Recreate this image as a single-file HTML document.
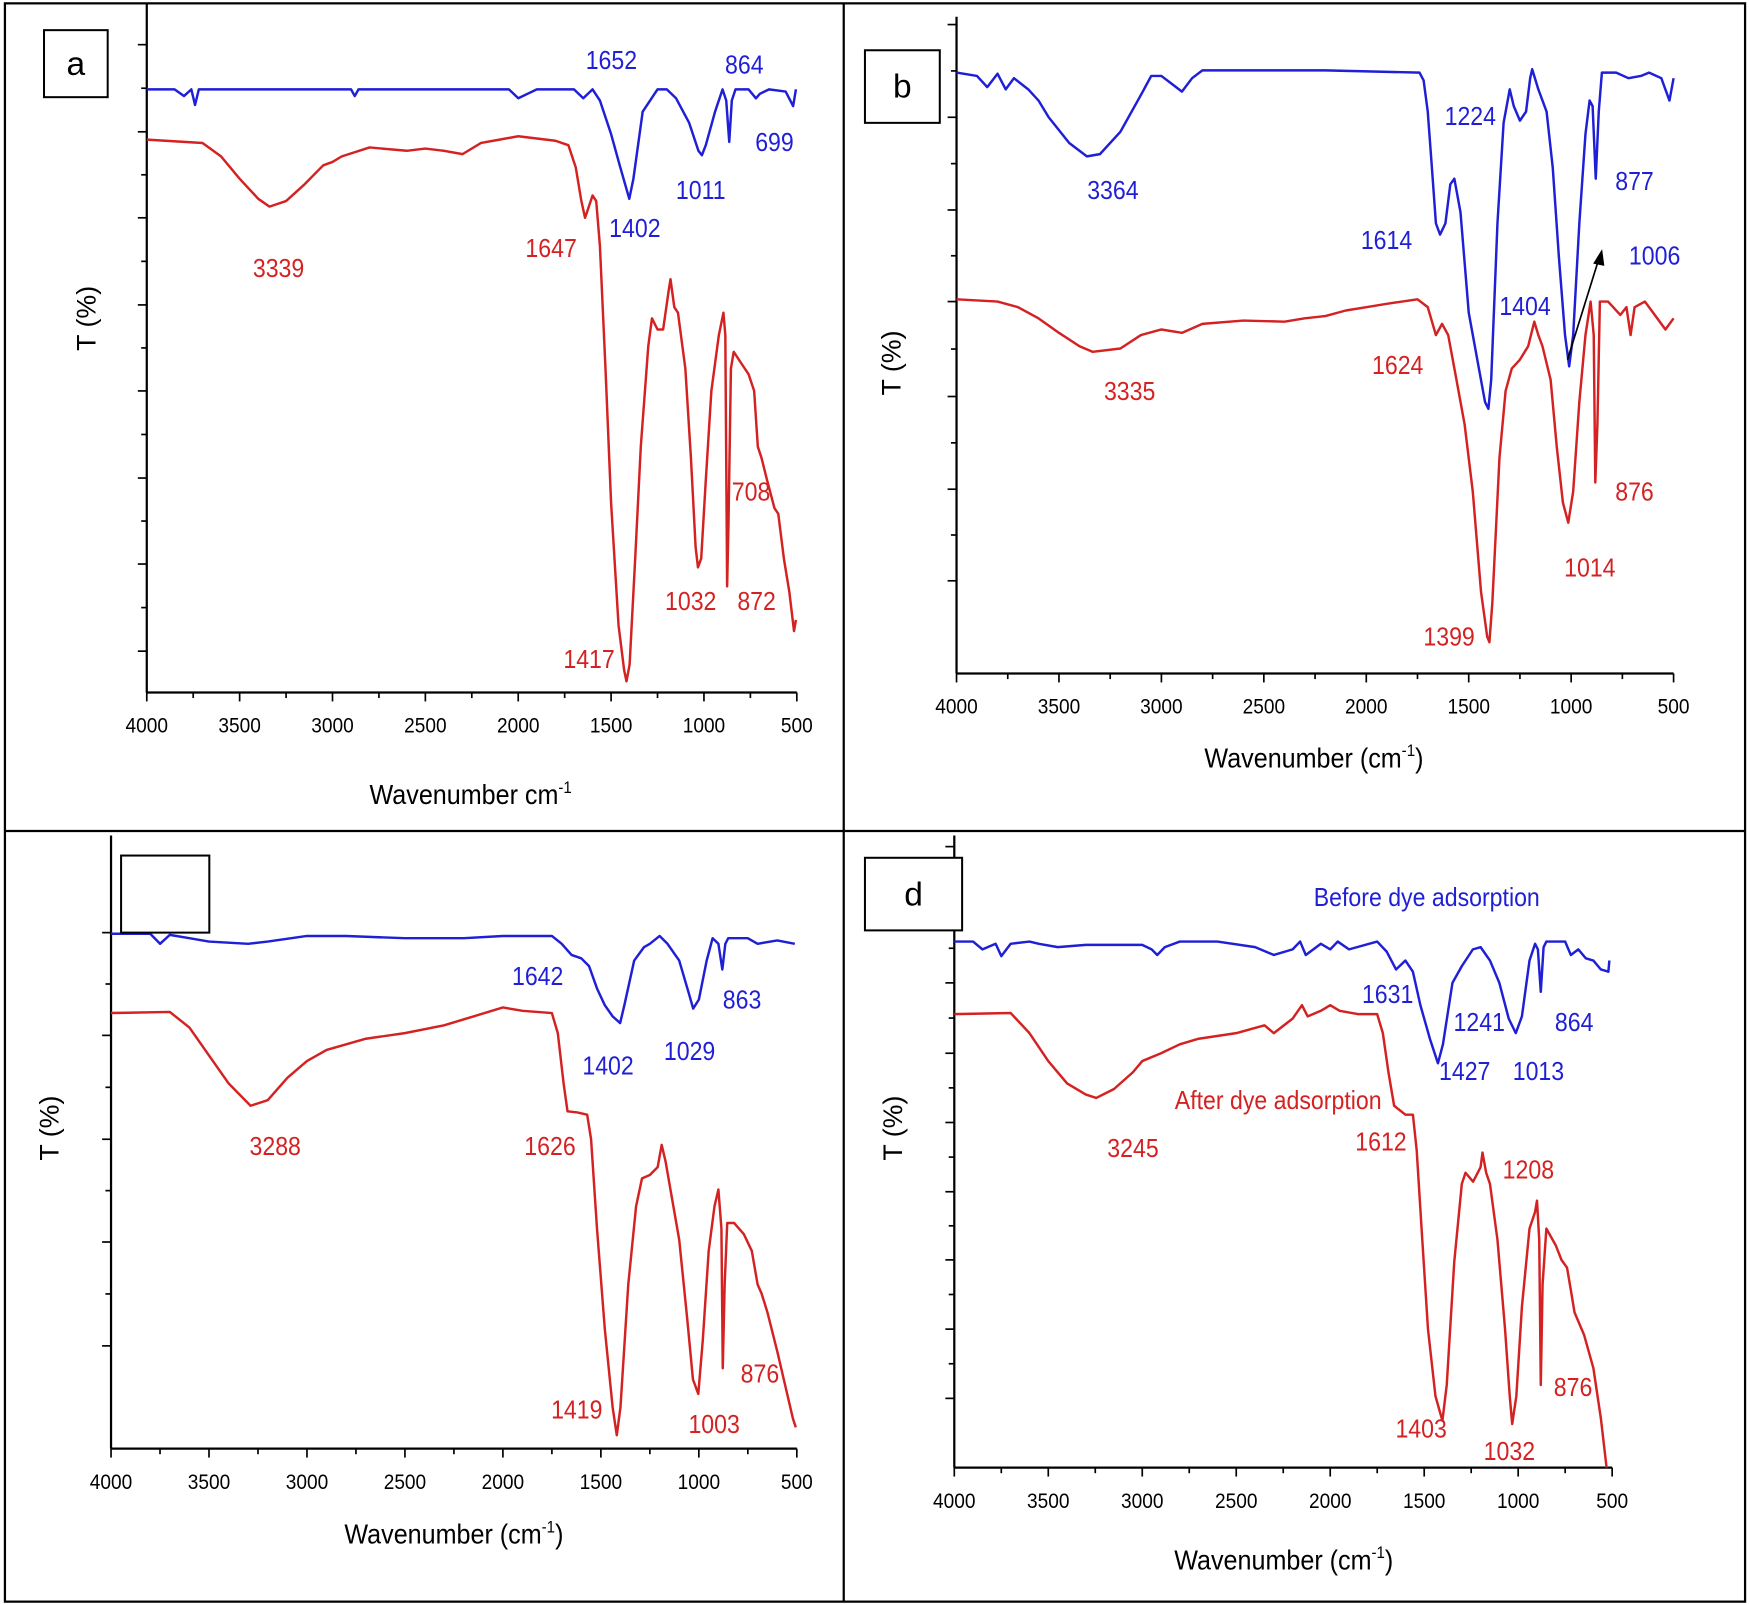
<!DOCTYPE html>
<html><head><meta charset="utf-8">
<style>
html,body{margin:0;padding:0;background:#fff;}
svg{display:block;}
text{font-family:"Liberation Sans",Arial,sans-serif;}
</style></head>
<body>
<svg id="fig" width="1750" height="1605" viewBox="0 0 1564 1437" xmlns="http://www.w3.org/2000/svg">
<rect x="3" y="3" width="1558" height="1431" fill="#fff" stroke="#000" stroke-width="2"/>
<line x1="754" y1="3" x2="754" y2="1434" stroke="#000" stroke-width="2"/>
<line x1="3" y1="744" x2="1561" y2="744" stroke="#000" stroke-width="2"/>
<g id="layer"></g>
</svg>
<script>
// ---- data (wavenumber cm-1, transmittance arbitrary units) ----
const xTicks = [4000,3500,3000,2500,2000,1500,1000,500];

const aBlueWn = [4000,3850,3800,3760,3740,3720,2900,2880,2860,2050,2000,1950,1900,1700,1650,1600,1560,1500,1450,1402,1380,1330,1250,1200,1150,1080,1030,1011,990,940,900,880,864,850,830,760,720,699,650,560,520,505];
const aBlueT = [540,540,534,540,526,540,540,534,540,540,532,536,540,540,532,540,530,500,470,442,460,520,540,540,532,510,485,481,490,520,540,530,493,530,540,540,532,536,540,538,525,540];
const aRedWn = [4000,3800,3700,3600,3500,3400,3339,3250,3150,3050,3000,2950,2800,2600,2500,2400,2300,2200,2100,2000,1900,1800,1730,1690,1660,1640,1620,1600,1580,1560,1530,1500,1460,1430,1417,1400,1370,1340,1300,1280,1250,1220,1190,1180,1160,1140,1100,1070,1045,1032,1015,990,960,920,895,885,875,868,855,840,800,760,730,710,690,660,620,600,570,540,515,505];
const aRedT = [495,493,492,480,460,442,435,440,455,472,475,480,488,485,487,485,482,492,495,498,496,494,490,470,440,425,435,445,440,400,290,170,60,20,10,25,120,220,310,335,325,325,360,370,345,340,290,210,130,112,120,190,270,320,340,320,95,150,290,305,295,285,270,220,210,190,165,160,120,90,55,65];

const bBlueWn = [4000,3900,3850,3800,3760,3720,3650,3600,3550,3450,3364,3300,3200,3100,3050,3000,2950,2900,2850,2800,2200,1740,1720,1700,1680,1660,1640,1614,1590,1570,1540,1500,1450,1420,1404,1390,1360,1330,1300,1280,1250,1220,1200,1190,1160,1120,1090,1060,1030,1010,990,960,930,910,895,880,865,850,780,720,660,620,560,520,500];
const bBlueT = [538,535,525,537,523,533,523,513,498,475,463,465,485,518,535,535,528,521,533,540,540,538,531,503,453,403,393,403,438,443,413,323,273,243,237,263,403,493,523,508,495,503,533,541,523,503,453,373,303,275,303,403,483,513,508,443,503,538,538,533,535,538,533,513,533];
const bRedWn = [4000,3800,3700,3600,3500,3400,3335,3200,3100,3000,2900,2800,2600,2400,2300,2200,2100,2000,1900,1750,1700,1660,1630,1600,1560,1520,1480,1440,1410,1399,1385,1350,1320,1290,1250,1210,1180,1160,1140,1100,1070,1040,1014,990,960,930,905,890,882,872,860,820,760,730,710,690,640,600,540,500];
const bRedT = [335,333,328,318,305,293,288,291,303,308,305,313,316,315,318,320,325,328,331,335,328,303,313,303,263,223,163,73,33,28,63,193,253,273,281,293,315,303,293,263,203,153,135,163,243,303,333,303,171,223,333,333,321,328,303,328,333,323,308,318];

const cBlueWn = [4000,3800,3750,3700,3600,3500,3300,3200,3000,2800,2500,2200,2000,1750,1700,1650,1600,1560,1520,1480,1440,1402,1380,1330,1280,1250,1200,1160,1100,1050,1029,1000,960,930,900,880,865,850,750,700,600,510];
const cBlueT = [461,461,452,460,457,454,452,454,459,459,457,457,459,459,452,442,439,432,412,397,387,381,397,437,449,452,459,452,437,407,394,402,437,457,452,429,452,457,457,452,455,452];
const cRedWn = [4000,3700,3600,3500,3400,3288,3200,3100,3000,2900,2700,2500,2300,2150,2000,1900,1750,1720,1690,1670,1620,1570,1550,1520,1480,1440,1419,1400,1360,1320,1290,1250,1210,1190,1170,1150,1100,1060,1030,1003,980,950,920,900,885,878,868,855,820,770,730,700,680,650,600,560,520,505];
const cRedT = [390,391,377,352,327,307,312,332,347,357,367,372,379,387,395,392,390,372,327,302,301,299,277,197,107,37,12,37,147,217,242,245,252,272,257,237,187,117,62,49,97,177,217,232,197,72,147,202,202,192,177,147,139,122,87,57,27,19];

const dBlueWn = [4000,3900,3850,3780,3750,3700,3600,3550,3450,3300,3000,2950,2920,2880,2800,2600,2400,2300,2200,2160,2130,2050,2000,1960,1900,1750,1700,1650,1600,1560,1520,1470,1427,1400,1350,1300,1241,1200,1150,1100,1050,1013,980,940,910,895,880,865,850,750,720,680,640,600,560,520,515];
const dBlueT = [471,471,464,469,458,469,471,469,466,468,468,464,459,466,471,471,466,459,464,471,459,469,464,471,464,471,462,446,454,444,414,384,362,379,434,449,464,466,454,434,402,389,404,454,469,464,426,466,471,471,459,464,456,454,446,444,454];
const dRedWn = [4000,3700,3600,3500,3400,3300,3245,3150,3050,3000,2900,2800,2700,2500,2350,2300,2200,2150,2120,2050,2000,1950,1850,1750,1720,1690,1660,1600,1560,1540,1510,1480,1440,1403,1380,1340,1300,1280,1240,1200,1190,1170,1150,1110,1070,1045,1032,1010,980,940,910,900,888,880,870,850,800,770,740,720,700,650,600,560,530];
const dRedT = [406,407,389,364,344,334,331,339,354,364,371,379,384,389,396,389,402,414,404,409,414,409,406,406,389,354,324,316,316,284,204,124,64,42,74,184,254,264,256,269,282,264,254,204,124,64,39,64,144,214,229,239,204,74,164,214,199,186,179,159,139,119,89,44,0];

const BLUE = "#1f1fd6", RED = "#d42222";
const NS = "http://www.w3.org/2000/svg";
const layer = document.getElementById('layer');

function mk(tag, attrs, parent){
  const e = document.createElementNS(NS, tag);
  for (const k in attrs) e.setAttribute(k, attrs[k]);
  (parent||layer).appendChild(e);
  return e;
}

function panel(p){
  const g = mk('g', {});
  
  
  const xs = w => p.x0 + (4000 - w) / 3500 * (p.x1 - p.x0);
  const ys = t => p.y1 - t;
  // axes
  const ya = mk('line', {x1:p.x0, y1:p.yTop, x2:p.x0, y2:p.y1, stroke:'#000','stroke-width':2}, g);
  
  
  const xa = mk('line', {x1:p.x0, y1:p.y1, x2:p.x1, y2:p.y1, stroke:'#000','stroke-width':2}, g);
  
  
  // x ticks
  for (let w = 4000; w >= 500; w -= 250) {
    const major = w % 500 === 0;
    mk('line', {x1:xs(w), y1:p.y1, x2:xs(w), y2:p.y1 + (major?8:5), stroke:'#000','stroke-width':1.5}, g);
  }
  xTicks.forEach(w => {
    const t = mk('text', {x:xs(w), y:p.y1 + 36, 'text-anchor':'middle','font-size':19, fill:'#000', transform:`translate(${xs(w)},0) scale(0.9,1) translate(${-xs(w)},0)`}, g);
    t.textContent = w;
    
    
  });
  // y ticks
  p.yMajor.forEach((y,i) => {
    mk('line', {x1:p.x0 - 8, y1:y, x2:p.x0, y2:y, stroke:'#000','stroke-width':1.5}, g);
    if (i < p.yMajor.length - 1) {
      const ym = (y + p.yMajor[i+1]) / 2;
      mk('line', {x1:p.x0 - 5, y1:ym, x2:p.x0, y2:ym, stroke:'#000','stroke-width':1.5}, g);
    }
  });
  // series
  function series(wn, T, color, name){
    const n = Math.min(wn.length, T.length);
    let d = '';
    for (let i = 0; i < n; i++) d += (i ? 'L' : 'M') + xs(wn[i]).toFixed(1) + ',' + ys(T[i]).toFixed(1);
    const path = mk('path', {d:d, fill:'none', stroke:color, 'stroke-width':2.2, 'stroke-linejoin':'round'}, g);
    
    
  }
  series(p.bw, p.bt, BLUE, 'before-adsorption-line-' + p.id);
  series(p.rw, p.rt, RED, 'after-adsorption-line-' + p.id);
  // titles
  const yt = mk('text', {x:0, y:0, 'text-anchor':'middle', 'font-size':24, fill:'#000', transform:`translate(${p.ytx},${p.yty}) rotate(-90)`}, g);
  yt.textContent = 'T (%)';
  
  
  const xt = mk('text', {x:p.xtx, y:p.xty, 'text-anchor':'middle', 'font-size':25, fill:'#000', transform:`translate(${p.xtx},0) scale(0.9,1) translate(${-p.xtx},0)`}, g);
  xt.innerHTML = p.xtitle;
  
  
  // label box
  const box = mk('rect', {x:p.box[0], y:p.box[1], width:p.box[2], height:p.box[3], fill:'#fff', stroke:'#000','stroke-width':1.8}, g);
  
  
  if (p.letter) {
    const lt = mk('text', {x:p.box[0] + p.box[2]/2, y:p.box[1] + p.box[3]/2 + 10, 'text-anchor':'middle', 'font-size':30, fill:'#000'}, g);
    lt.textContent = p.letter;
    
    
  }
  // annotations
  p.ann.forEach(a => {
    const t = mk('text', {x:a[1], y:a[2], 'text-anchor':'middle', 'font-size':23, fill:a[3], transform:`translate(${a[1]},0) scale(0.9,1) translate(${-a[1]},0)`}, g);
    t.textContent = a[0];
    
    
  });
  return g;
}

const B = BLUE, R = RED;
panel({id:'a', x0:130, x1:712, y1:620, yTop:3,
  yMajor:[40,118,195,273,350,428,505,583],
  bw:aBlueWn, bt:aBlueT, rw:aRedWn, rt:aRedT,
  ytx:84, yty:285, xtx:420, xty:720, xtitle:'Wavenumber cm<tspan font-size="15" dy="-10">-1</tspan>',
  box:[38,27,57,60], letter:'a',
  ann:[['1652',546,62,B],['864',665,66,B],['699',692,135,B],['1402',567,212,B],['1011',626,178,B],
       ['3339',248,248,R],['1647',492,230,R],['708',671,448,R],['1032',617,546,R],['872',676,546,R],['1417',526,598,R]]});
panel({id:'b', x0:855, x1:1497, y1:603, yTop:15,
  yMajor:[22,105,188,270,355,438,520],
  bw:bBlueWn, bt:bBlueT, rw:bRedWn, rt:bRedT,
  ytx:805, yty:325, xtx:1175, xty:687, xtitle:'Wavenumber (cm<tspan font-size="15" dy="-10">-1</tspan><tspan dy="10">)</tspan>',
  box:[773,45,67,65], letter:'b',
  ann:[['3364',995,178,B],['1224',1315,112,B],['877',1462,170,B],['1614',1240,223,B],['1404',1364,282,B],['1006',1480,237,B],
       ['3335',1010,358,R],['1624',1250,335,R],['1399',1296,578,R],['1014',1422,516,R],['876',1462,448,R]]});
panel({id:'c', x0:98, x1:712, y1:1297, yTop:748,
  yMajor:[835,927,1020,1112,1205],
  bw:cBlueWn, bt:cBlueT, rw:cRedWn, rt:cRedT,
  ytx:51, yty:1010, xtx:405, xty:1382, xtitle:'Wavenumber (cm<tspan font-size="15" dy="-10">-1</tspan><tspan dy="10">)</tspan>',
  box:[107,766,79,69], letter:'',
  ann:[['1642',480,882,B],['1402',543,962,B],['1029',616,949,B],['863',663,903,B],
       ['3288',245,1034,R],['1626',491,1034,R],['1419',515,1270,R],['1003',638,1283,R],['876',679,1238,R]]});
panel({id:'d', x0:853, x1:1442, y1:1314, yTop:748,
  yMajor:[758,818,880,943,1005,1067,1128,1190,1252],
  bw:dBlueWn, bt:dBlueT, rw:dRedWn, rt:dRedT,
  ytx:806, yty:1010, xtx:1148, xty:1405, xtitle:'Wavenumber (cm<tspan font-size="15" dy="-10">-1</tspan><tspan dy="10">)</tspan>',
  box:[773,768,87,65], letter:'d',
  ann:[['Before  dye adsorption',1276,811,B],['1631',1241,898,B],['1241',1323,923,B],['864',1408,923,B],['1427',1310,967,B],['1013',1376,967,B],
       ['After dye adsorption',1143,993,R],['3245',1013,1036,R],['1612',1235,1030,R],['1208',1367,1055,R],['1403',1271,1287,R],['1032',1350,1307,R],['876',1407,1250,R]]});

// arrow in panel b
const arrow = mk('line', {x1:1402, y1:322, x2:1430, y2:232, stroke:'#000','stroke-width':1.5});


const head = mk('path', {d:'M1433,223 L1425,236 L1435,238 Z', fill:'#000'});


</script>
</body></html>
